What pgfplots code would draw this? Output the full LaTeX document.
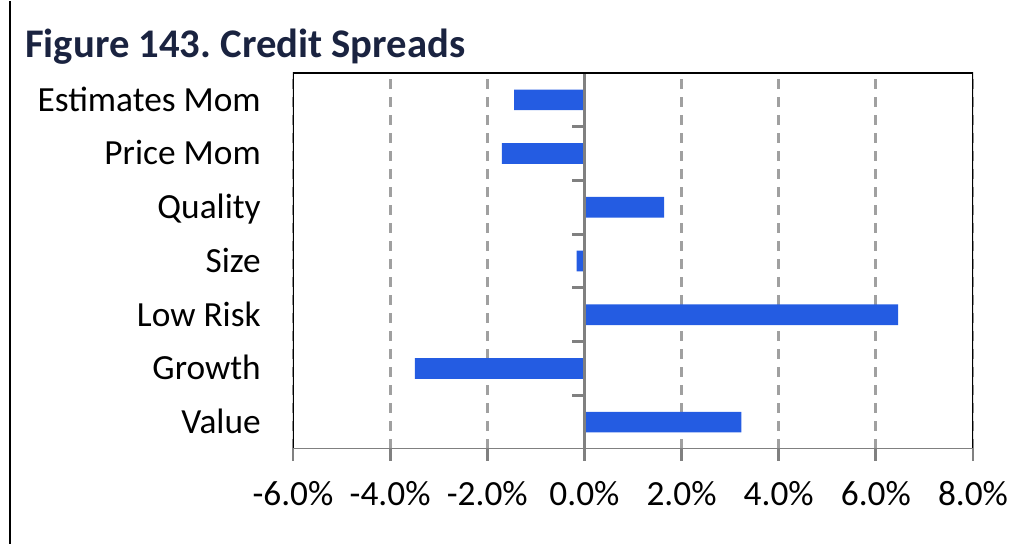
\documentclass[border=0pt]{standalone}
\usepackage{pgfplots}
\pgfplotsset{compat=1.18}
\usepackage{fontspec}
\setmainfont{Carlito}

\definecolor{barblue}{RGB}{36,92,226}
\definecolor{titlenavy}{RGB}{26,35,64}
\definecolor{gridgrey}{RGB}{160,160,160}
\definecolor{axisgrey}{RGB}{128,128,128}

\begin{document}
\frenchspacing
\begin{tikzpicture}[x=0.75pt,y=0.75pt]
% whole picture in reference pixels (1px = 0.75pt)
\path (0,0) rectangle (1015,543);
\draw[black, line width=1.5pt] (10,0) -- (10,543);
\node[anchor=base west, inner sep=0pt, text=titlenavy,
      font=\fontsize{30.5}{36}\selectfont\bfseries] at (25,486) {Figure 143. Credit Spreads};

\begin{axis}[
    at={(219.75pt,71.25pt)}, anchor=south west,
    scale only axis, width=510pt, height=282pt,
    xbar, bar width=15.5pt,
    xmin=-6, xmax=8, ymin=-0.5, ymax=6.5,
    xtick={-6,-4,-2,0,2,4,6,8},
    xticklabels={-6.0\%,-4.0\%,-2.0\%,0.0\%,2.0\%,4.0\%,6.0\%,8.0\%},
    ytick={0,1,2,3,4,5,6},
    yticklabels={Value,Growth,Low Risk,Size,Quality,Price Mom,Estimates Mom},
    xmajorgrids,
    grid style={gridgrey, line width=2.2pt, dash pattern=on 7.5pt off 6pt},
    axis line style={draw=none},
    tick align=outside, xtick pos=left,
    major tick length=9pt,
    x tick style={axisgrey, line width=2.2pt},
    y tick style={draw=none},
    tick label style={font=\fontsize{26.5}{30}\selectfont},
    xticklabel style={anchor=base, inner sep=0pt, yshift=-33.5pt},
    yticklabel style={anchor=base east, inner sep=0pt, xshift=-15pt, yshift=-8.5pt},
]
\addplot[fill=barblue, draw=none] coordinates {
    (3.23,0) (-3.49,1) (6.46,2) (-0.16,3) (1.64,4) (-1.70,5) (-1.45,6)
};
\draw[axisgrey, line width=2.2pt] (axis cs:0,-0.5) -- (axis cs:0,6.5);
\pgfplotsinvokeforeach{0,1,2,3,4,5}{
    \draw[axisgrey, line width=2.2pt] (axis cs:0,#1+0.5) -- ++(-9pt,0pt);
}
\draw[black, line width=2pt] (rel axis cs:0,0) -- (rel axis cs:0,1)
    -- (rel axis cs:1,1) -- (rel axis cs:1,0);
\draw[axisgrey, line width=2.2pt] (rel axis cs:0,0) -- (rel axis cs:1,0);
\end{axis}
\end{tikzpicture}
\end{document}
